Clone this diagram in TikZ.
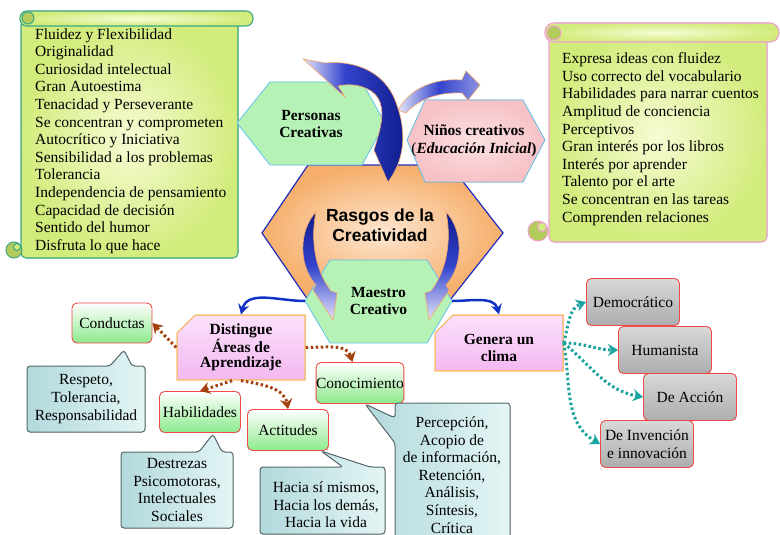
\documentclass[tikz,border=0pt]{standalone}
\usepackage{fontspec}
\setmainfont{Liberation Serif}
\newfontfamily\arialfont{Liberation Sans}
\usetikzlibrary{arrows.meta,shapes.misc}

\definecolor{scrollin}{HTML}{F6FCD4}
\definecolor{scrollout}{HTML}{D2EC7C}
\definecolor{scrollteal}{HTML}{3AA884}
\definecolor{scrollpink}{HTML}{F0A0D0}
\definecolor{curlfill}{HTML}{B4CC5C}
\definecolor{hexgreenfill}{HTML}{B6F2B6}
\definecolor{hexline}{HTML}{62C4EE}
\definecolor{hexpinkfill}{HTML}{F7C2C6}
\definecolor{orangeout}{HTML}{F6AE6A}
\definecolor{orangein}{HTML}{FDE6D0}
\definecolor{rasgosline}{HTML}{1E2EC0}
\definecolor{arrdark}{HTML}{0E1A8A}
\definecolor{arrmid}{HTML}{3444CC}
\definecolor{arrlight}{HTML}{E4E4FA}
\definecolor{arredge}{HTML}{F2A866}
\definecolor{boxred}{HTML}{EE4A4A}
\definecolor{boxgreen}{HTML}{8CEA8C}
\definecolor{pinktop}{HTML}{FBE0FB}
\definecolor{pinkbot}{HTML}{F4B8F2}
\definecolor{pinkline}{HTML}{F6BE78}
\definecolor{callleft}{HTML}{B2D9DC}
\definecolor{callright}{HTML}{E4F5F5}
\definecolor{callline}{HTML}{56686A}
\definecolor{graytop}{HTML}{D8D8D8}
\definecolor{graymid}{HTML}{F8F8F8}
\definecolor{graybot}{HTML}{ADADAD}
\definecolor{brownarr}{HTML}{A3420E}
\definecolor{tealarr}{HTML}{1BA3A0}
\definecolor{bluearr}{HTML}{1232C6}

% shadings of the big arrows
\pgfdeclarehorizontalshading{arrowA}{100bp}{color(0bp)=(arrlight); color(25bp)=(arrlight); color(45bp)=(arrmid); color(75bp)=(arrdark); color(100bp)=(arrdark)}
\pgfdeclarehorizontalshading{arrowB}{100bp}{color(0bp)=(arrlight); color(25bp)=(arrlight); color(50bp)=(arrmid); color(75bp)=(arrlight!50!arrmid); color(100bp)=(arrlight!50!arrmid)}
\pgfdeclareverticalshading{arrowC}{100bp}{color(0bp)=(arrlight); color(25bp)=(arrlight); color(50bp)=(arrmid); color(75bp)=(arrdark); color(100bp)=(arrdark)}

\tikzset{
  norm/.style={font=\fontsize{15.5}{17.6}\selectfont, align=center, inner sep=0pt},
  bold/.style={norm, font=\fontsize{15.5}{17.6}\selectfont\bfseries},
  scrollL/.style={draw=scrollteal, line width=1.1pt, inner color=scrollin, outer color=scrollout},
  scrollR/.style={draw=scrollpink, line width=1.1pt, inner color=scrollin, outer color=scrollout},
  curlL/.style={draw=scrollteal, line width=1pt, fill=curlfill},
  curlR/.style={draw=scrollpink, line width=1pt, fill=curlfill},
  hexgreen/.style={draw=hexline, line width=0.8pt, fill=hexgreenfill},
  hexpink/.style={draw=hexline, line width=0.8pt, inner color=hexpinkfill!50!white, outer color=hexpinkfill},
  hexorange/.style={draw=rasgosline, line width=1.2pt, inner color=orangein, outer color=orangeout},
  blockarrow/.style={draw=arredge, line width=0.6pt, shading=#1},
  greenbox/.style={norm, draw=boxred, line width=0.9pt, rounded corners=5pt, top color=white, bottom color=boxgreen},
  graybox/.style={norm, draw=boxred, line width=0.9pt, rounded corners=5pt, top color=graytop, middle color=graymid, bottom color=graybot, minimum width=93pt, minimum height=47pt},
  pinkbox/.style={bold, draw=pinkline, line width=1.5pt, chamfered rectangle, chamfered rectangle corners=north west, chamfered rectangle xsep=9pt, chamfered rectangle ysep=9pt, top color=pinktop, bottom color=pinkbot, inner sep=0pt},
  callbox/.style={draw=callline, line width=1pt, rounded corners=3pt, left color=callleft, right color=callright},
  brownline/.style={draw=brownarr, line width=3pt, dash pattern=on 2.5pt off 2.5pt, -{Stealth[length=10pt,width=12pt]}},
  tealline/.style={draw=tealarr, line width=3pt, dash pattern=on 2.5pt off 2.5pt, -{Stealth[length=10pt,width=12pt]}},
  blueline/.style={draw=bluearr, line width=2.5pt, -{Stealth[length=10pt,width=11pt]}}
}

\begin{document}
\begin{tikzpicture}[x=1pt,y=-1pt]
\useasboundingbox (0,0) rectangle (780,535);

% left scroll
\filldraw[scrollL, rounded corners=5pt] (21,20) rectangle (238,258);
\filldraw[scrollL, rounded corners=7pt] (20,11) rectangle (253,26);
\filldraw[curlL] (28,18) circle[radius=6pt];
\filldraw[curlL] (14,250) circle[radius=8pt];
\filldraw[curlL, fill=scrollout] (17,247) circle[radius=3.5pt];
\node[norm, align=left, anchor=west] (lscroll) at (35,141) {Fluidez y Flexibilidad\\Originalidad\\Curiosidad intelectual\\Gran Autoestima\\Tenacidad y Perseverante\\Se concentran y comprometen\\Autocrítico y Iniciativa\\Sensibilidad a los problemas\\Tolerancia\\Independencia de pensamiento\\Capacidad de decisión\\Sentido del humor\\Disfruta lo que hace};

% right scroll
\filldraw[scrollR, rounded corners=5pt] (549,30) rectangle (767,242);
\filldraw[scrollR, rounded corners=9pt] (545,23) rectangle (779,42);
\filldraw[curlR] (554,33) circle[radius=7pt];
\filldraw[curlR] (538,231) circle[radius=10pt];
\filldraw[curlR, fill=scrollout] (542,227) circle[radius=4.5pt];
\node[norm, align=left, anchor=west] (rscroll) at (562,139) {Expresa ideas con fluidez\\Uso correcto del vocabulario\\Habilidades para narrar cuentos\\Amplitud de conciencia\\Perceptivos\\Gran interés por los libros\\Interés por aprender\\Talento por el arte\\Se concentran en las tareas\\Comprenden relaciones};

% hexagons
\filldraw[hexorange] (262,233) -- (308,165) -- (450,165) -- (503,233) -- (450,300) -- (308,300) -- cycle;
\filldraw[hexgreen] (237,123) -- (270,82) -- (362,82) -- (385,123) -- (362,165) -- (270,165) -- cycle;
\filldraw[hexpink] (407,140) -- (425,100) -- (523,100) -- (545,140) -- (523,182) -- (425,182) -- cycle;
\filldraw[hexgreen] (305,301) -- (330,260) -- (427,260) -- (452,301) -- (427,343) -- (330,343) -- cycle;

\node[bold] (per) at (311,124) {Personas\\Creativas};
\node[bold] (nin) at (474,141) {Niños creativos\\\textmd{(}\textit{Educación Inicial})};
\node[norm, font=\arialfont\fontsize{17.5}{20}\selectfont\bfseries] (ras) at (380,225) {Rasgos de la\\Creatividad};
\node[bold, minimum width=147pt] (mae) at (378.5,301) {Maestro\\Creativo};

% block arrows
\shadedraw[blockarrow=arrowB] (398,110) .. controls (410,88) and (435,78) .. (462,80) -- (466,71) -- (480,85) -- (468,100) -- (462,93) .. controls (440,92) and (420,98) .. (406,113) -- cycle;
\shadedraw[blockarrow=arrowA] (303,59) -- (325,63) .. controls (360,60) and (385,75) .. (395,100) .. controls (405,125) and (408,155) .. (388,182) -- (374,150) .. controls (382,125) and (385,110) .. (378,98) .. controls (372,88) and (355,82) .. (338,86) -- (345,97) -- cycle;
\shadedraw[blockarrow=arrowC] (316,212) .. controls (299,230) and (298,265) .. (316,285) -- (313,290) -- (333,320) -- (337,293) -- (331,291) .. controls (313,268) and (311,235) .. (316,212) -- cycle;
\shadedraw[blockarrow=arrowC] (446,212) .. controls (463,230) and (464,265) .. (446,285) -- (449,290) -- (429,320) -- (425,293) -- (431,291) .. controls (449,268) and (451,235) .. (446,212) -- cycle;

% second level
\node[pinkbox, minimum width=128pt, minimum height=55pt, font=\fontsize{15.5}{15}\selectfont\bfseries] (dist) at (241,347.5) {Distingue\\Áreas de\\Aprendizaje};
\node[pinkbox, minimum width=128pt, minimum height=50pt] (gen) at (499,343) {\rule{0pt}{20pt}Genera un\\clima};

\draw[blueline] (mae.west) to[out=180,in=75] (dist.north);
\draw[blueline] (mae.east) to[out=0,in=105] (gen.north);

% areas
\node[greenbox, minimum width=80pt, minimum height=40pt] (cond) at (112,323) {Conductas};
\node[greenbox, minimum width=81pt, minimum height=41pt] (hab) at (200,412) {Habilidades};
\node[greenbox, minimum width=81pt, minimum height=41pt] (act) at (288,430) {Actitudes};
\node[greenbox, minimum width=87pt, minimum height=41pt] (con) at (360,383) {Conocimiento};

\draw[brownline] (dist.west) -- (cond.east);
\draw[brownline] (dist.-105) -- (hab.north);
\draw[brownline] (dist.-90) to[out=-10,in=100] (act.north);
\draw[brownline] (dist.east) to[out=0,in=105] (con.110);

% callouts
\filldraw[callbox] (86,432) -- (27,432) -- (27,366) -- (110,366) -- (124,350) -- (132,366) -- (145,366) -- (145,432) -- cycle;
\node[norm] (resp) at (86,399) {Respeto,\\Tolerancia,\\Responsabilidad};
\filldraw[callbox] (177,528) -- (121,528) -- (121,452) -- (199,452) -- (213,434) -- (222,452) -- (233,452) -- (233,528) -- cycle;
\node[norm] (destr) at (177,490) {Destrezas\\Psicomotoras,\\Intelectuales\\Sociales};
\filldraw[callbox] (322,534) -- (260,534) -- (260,467) -- (343,467) -- (321,451) -- (370,467) -- (385,467) -- (385,534) -- cycle;
\node[norm] (hacia) at (326,505) {Hacia sí mismos,\\Hacia los demás,\\Hacia la vida};
\filldraw[callbox] (452,542) -- (395,542) -- (395,443) -- (365,404) -- (395,418) -- (395,403) -- (510,403) -- (510,542) -- cycle;
\node[norm] (perc) at (452,475) {Percepción,\\Acopio de\\de información,\\Retención,\\Análisis,\\Síntesis,\\Crítica};

% clima
\node[graybox] (dem) at (633,302) {Democrático};
\node[graybox] (hum) at (665,350) {Humanista};
\node[graybox] (acc) at (690,397) {De Acción};
\node[graybox] (inv) at (647,444) {De Invención\\e innovación};

\draw[tealline] (gen.east) to[out=75,in=200] (dem.west);
\draw[tealline] (gen.east) to[out=0,in=180] (hum.west);
\draw[tealline] (gen.east) to[out=-40,in=170] (acc.west);
\draw[tealline] (gen.east) to[out=-80,in=150] (inv.west);
\end{tikzpicture}
\end{document}
